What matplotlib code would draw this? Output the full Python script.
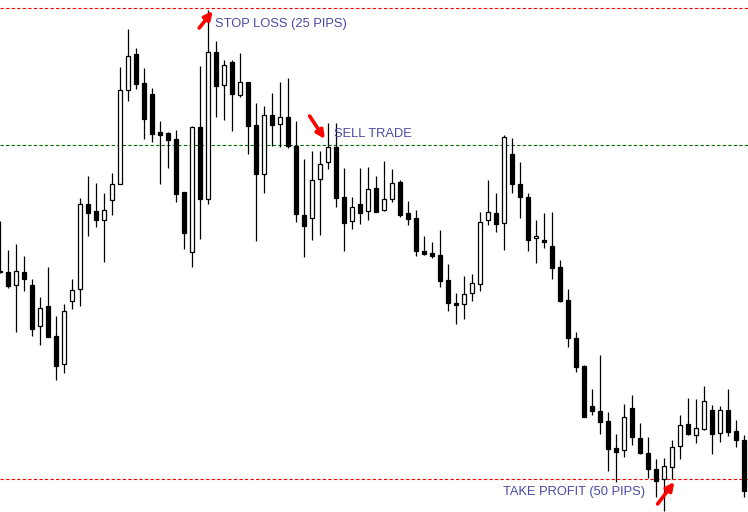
import matplotlib.pyplot as plt
import numpy as np

# candle data (price in points), one entry per bar, left to right
opens = [328, 328, 315, 328, 315, 274, 294, 264, 236, 299, 311, 396, 389, 380, 400,
         416, 510, 546, 517, 506, 468, 467, 461, 408, 348, 473, 401, 548, 515, 538,
         505, 518, 475, 426, 485, 476, 483, 454, 385, 382, 421, 438, 453, 403, 379,
         396, 389, 412, 390, 401, 418, 387, 382, 349, 347, 345, 320, 297, 296, 307,
         316, 380, 387, 377, 446, 416, 403, 362, 360, 354, 333, 300, 262, 234, 194,
         189, 179, 152, 150, 192, 162, 147, 131, 121, 133, 154, 176, 165, 171, 190,
         167, 190, 169, 160]
closes = [328, 314, 329, 321, 271, 292, 263, 234, 289, 310, 396, 387, 380, 390, 416,
          510, 544, 516, 481, 466, 465, 460, 406, 367, 473, 401, 548, 514, 535, 506,
          518, 474, 426, 485, 475, 483, 454, 386, 374, 420, 436, 453, 402, 377, 393,
          387, 411, 388, 401, 417, 385, 381, 349, 346, 344, 319, 297, 295, 306, 317,
          378, 388, 376, 463, 416, 403, 360, 364, 358, 332, 299, 262, 233, 183, 189,
          178, 151, 148, 183, 163, 147, 131, 119, 134, 153, 175, 166, 172, 199, 166,
          190, 168, 160, 109]
highs = [379, 350, 356, 344, 321, 303, 333, 284, 296, 321, 402, 424, 417, 407, 427,
         533, 571, 552, 532, 512, 479, 468, 470, 408, 474, 534, 590, 559, 540, 540,
         547, 518, 497, 494, 507, 518, 522, 479, 441, 449, 449, 477, 477, 432, 403,
         432, 433, 424, 439, 431, 420, 399, 390, 364, 358, 370, 336, 307, 324, 326,
         388, 420, 407, 465, 462, 438, 407, 380, 387, 388, 340, 311, 268, 235, 211,
         245, 188, 166, 196, 205, 177, 163, 141, 142, 160, 185, 202, 201, 214, 195,
         194, 211, 180, 165]
lows = [327, 312, 268, 309, 264, 255, 263, 220, 227, 291, 294, 364, 373, 338, 385,
        416, 499, 511, 461, 458, 416, 432, 398, 351, 333, 361, 396, 483, 480, 469,
        503, 446, 359, 407, 454, 453, 452, 378, 343, 360, 365, 431, 393, 349, 371,
        376, 380, 388, 389, 398, 383, 375, 344, 345, 342, 313, 289, 276, 281, 299,
        309, 375, 368, 350, 407, 382, 349, 337, 352, 321, 298, 253, 228, 183, 185,
        166, 129, 118, 143, 155, 146, 122, 103, 89, 121, 141, 165, 157, 170, 146,
        158, 164, 153, 103]

stop_loss = 592
sell_price = 455
take_profit = 121

opens = np.array(opens)
closes = np.array(closes)
highs = np.array(highs)
lows = np.array(lows)
idx = np.arange(len(opens)) - 1

fig = plt.figure(figsize=(7.48, 5.12), dpi=100)
ax = fig.add_axes([0, 0, 1, 1])
ax.axis('off')

# wicks
ax.vlines(idx, lows, highs, color='black', linewidth=0.9, zorder=2)

# bodies
up = closes >= opens
bottoms = np.minimum(opens, closes)
heights = np.maximum(np.abs(closes - opens), 1.2)
ax.bar(idx[up], heights[up], bottom=bottoms[up], width=0.62,
       color='white', edgecolor='black', linewidth=0.9, zorder=3)
ax.bar(idx[~up], heights[~up], bottom=bottoms[~up], width=0.62,
       color='black', edgecolor='black', linewidth=0.9, zorder=3)

# trade levels
ax.axhline(stop_loss, color='#ff0000', linewidth=0.8, linestyle=(0, (3, 2)), zorder=1)
ax.axhline(sell_price, color='#007000', linewidth=0.8, linestyle=(0, (3, 2)), zorder=1)
ax.axhline(take_profit, color='#ff0000', linewidth=0.8, linestyle=(0, (3, 2)), zorder=1)

txt = dict(color='#4a4aa6', fontsize=9.3, family='Liberation Sans', va='center', ha='left', zorder=5)
ax.text(25.9, 576, 'STOP LOSS (25 PIPS)', **txt)
ax.text(40.8, 466, 'SELL TRADE', **txt)
ax.text(61.9, 108, 'TAKE PROFIT (50 PIPS)', **txt)

arr = dict(arrowstyle='-|>', color='#ff0000', lw=2.6, mutation_scale=12, shrinkA=0, shrinkB=0)
ax.annotate('', xy=(25.6, 589), xytext=(23.9, 572), arrowprops=arr, zorder=6)
ax.annotate('', xy=(39.6, 461), xytext=(37.7, 484), arrowprops=arr, zorder=6)
ax.annotate('', xy=(83.3, 118), xytext=(81.2, 96), arrowprops=arr, zorder=6)

ax.set_xlim(-1.0, -1.0 + 748 / 8)
ax.set_ylim(88, 600)

plt.savefig('out.png', dpi=100)
